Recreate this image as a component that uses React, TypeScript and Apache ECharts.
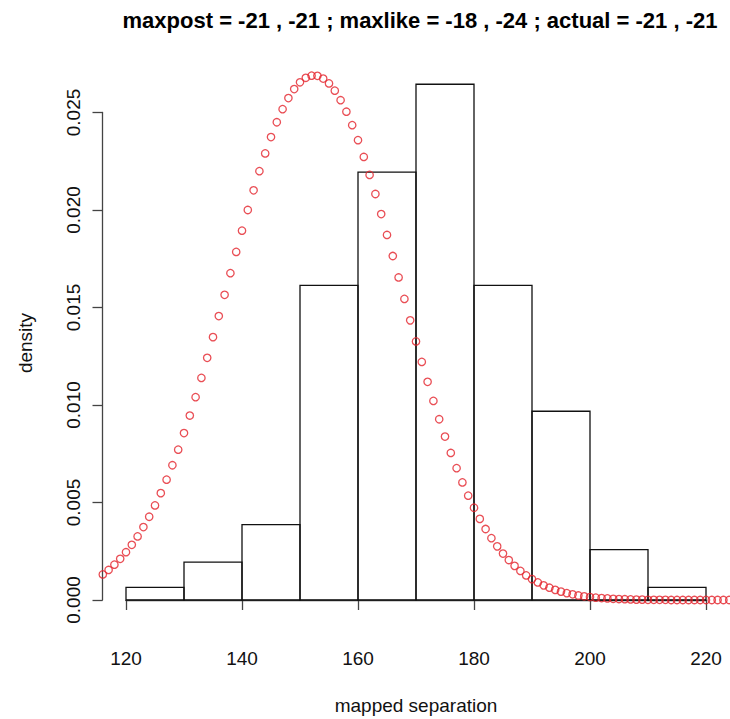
import React, { useEffect, useRef } from "react";
import * as echarts from "echarts";

const titleText = "maxpost = -21 , -21 ; maxlike = -18 , -24 ; actual = -21 , -21";
const xAxisName = "mapped separation";
const yAxisName = "density";

const binStart = [120, 130, 140, 150, 160, 170, 180, 190, 200, 210];
const binEnd = [130, 140, 150, 160, 170, 180, 190, 200, 210, 220];
const binDensity = [0.00065, 0.00194, 0.00387, 0.01613, 0.02194, 0.02645, 0.01613, 0.00968, 0.00258, 0.00065];

const curveX = [
  116, 117, 118, 119, 120, 121, 122, 123, 124, 125, 126, 127, 128, 129, 130, 131, 132, 133, 134, 135,
  136, 137, 138, 139, 140, 141, 142, 143, 144, 145, 146, 147, 148, 149, 150, 151, 152, 153, 154, 155,
  156, 157, 158, 159, 160, 161, 162, 163, 164, 165, 166, 167, 168, 169, 170, 171, 172, 173, 174, 175,
  176, 177, 178, 179, 180, 181, 182, 183, 184, 185, 186, 187, 188, 189, 190, 191, 192, 193, 194, 195,
  196, 197, 198, 199, 200, 201, 202, 203, 204, 205, 206, 207, 208, 209, 210, 211, 212, 213, 214, 215,
  216, 217, 218, 219, 220, 221, 222, 223, 224,
];
const curveY = [
  0.00131, 0.00154, 0.00181, 0.00211, 0.00245, 0.00283, 0.00326, 0.00374, 0.00427, 0.00485,
  0.00548, 0.00617, 0.00691, 0.00771, 0.00856, 0.00946, 0.0104, 0.01139, 0.01242, 0.01348,
  0.01456, 0.01565, 0.01676, 0.01785, 0.01894, 0.02, 0.02101, 0.02199, 0.0229, 0.02374,
  0.0245, 0.02517, 0.02574, 0.0262, 0.02655, 0.02678, 0.02689, 0.02688, 0.02674, 0.02649,
  0.02612, 0.02563, 0.02504, 0.02435, 0.02358, 0.02272, 0.0218, 0.02082, 0.01979, 0.01872,
  0.01764, 0.01654, 0.01544, 0.01434, 0.01326, 0.01221, 0.01119, 0.01021, 0.00927, 0.00838,
  0.00754, 0.00676, 0.00603, 0.00535, 0.00473, 0.00416, 0.00364, 0.00317, 0.00275, 0.00238,
  0.00205, 0.00175, 0.00149, 0.00126, 0.00107, 0.0009, 0.00075, 0.00063, 0.00052, 0.00043,
  0.00035, 0.00029, 0.00023, 0.00019, 0.00015, 0.00012, 0.0001, 0.00008, 0.00006, 0.00005,
  0.00004, 0.00003, 0.00002, 0.00002, 0.00001, 0.00001, 0.00001, 0.00001, 0, 0,
  0, 0, 0, 0, 0, 0, 0, 0, 0,
];

const FONT = "'Liberation Sans', Arial, Helvetica, sans-serif";

export default function App() {
  const ref = useRef<HTMLDivElement>(null);
  useEffect(() => {
    if (!ref.current) return;
    const chart = echarts.init(ref.current, null, { renderer: "svg" });
    const bars = binStart.map((s, i) => [s, binEnd[i], binDensity[i]]);
    const pts = curveX.map((x, i) => [x, curveY[i]]);
    chart.setOption({
      animation: false,
      backgroundColor: "#fff",
      grid: { left: 126, right: 24, top: 112.5, bottom: 119, outerBoundsMode: "none" },
      xAxis: {
        type: "value",
        min: 120,
        max: 220,
        interval: 20,
        offset: 21,
        axisLine: { show: true, lineStyle: { color: "#444", width: 1.3 } },
        axisTick: { show: true, length: 10, lineStyle: { color: "#444", width: 1.3 } },
        axisLabel: { margin: 28, fontSize: 19, fontFamily: FONT, color: "#111" },
        splitLine: { show: false },
      },
      yAxis: {
        type: "value",
        min: 0,
        max: 0.025,
        interval: 0.005,
        offset: 23.5,
        axisLine: { show: true, lineStyle: { color: "#444", width: 1.3 } },
        axisTick: { show: true, length: 10, lineStyle: { color: "#444", width: 1.3 } },
        axisLabel: {
          rotate: 90,
          margin: 20,
          fontSize: 19,
          fontFamily: FONT,
          color: "#111",
          formatter: (v: number) => v.toFixed(3),
        },
        splitLine: { show: false },
      },
      series: [
        {
          type: "custom",
          data: bars,
          encode: { x: [0, 1], y: 2 },
          renderItem: (params: any, api: any) => {
            const p0 = api.coord([api.value(0), api.value(2)]);
            const p1 = api.coord([api.value(1), 0]);
            return {
              type: "rect",
              shape: { x: p0[0], y: p0[1], width: p1[0] - p0[0], height: p1[1] - p0[1] },
              style: { fill: "none", stroke: "#111", lineWidth: 1.3 },
            };
          },
          z: 2,
        },
        {
          type: "scatter",
          data: pts,
          clip: false,
          symbol: "circle",
          symbolSize: 7.4,
          itemStyle: { color: "transparent", borderColor: "#e3222a", borderWidth: 1.3 },
          z: 3,
        },
      ],
      graphic: [
        {
          type: "text",
          x: 420,
          y: 20,
          style: {
            text: titleText,
            font: `bold 22px ${FONT}`,
            fill: "#000",
            textAlign: "center",
            textVerticalAlign: "middle",
            align: "center",
            verticalAlign: "middle",
          },
        },
        {
          type: "text",
          x: 416,
          y: 705,
          style: {
            text: xAxisName,
            font: `19px ${FONT}`,
            fill: "#111",
            textAlign: "center",
            textVerticalAlign: "middle",
            align: "center",
            verticalAlign: "middle",
          },
        },
        {
          type: "text",
          x: 25,
          y: 343,
          rotation: Math.PI / 2,
          style: {
            text: yAxisName,
            font: `19px ${FONT}`,
            fill: "#111",
            textAlign: "center",
            textVerticalAlign: "middle",
            align: "center",
            verticalAlign: "middle",
          },
        },
      ],
    });
    return () => chart.dispose();
  }, []);
  return (
    <div
      ref={ref}
      style={{ position: "fixed", left: 0, top: 0, width: 730, height: 719, background: "#fff" }}
    />
  );
}
